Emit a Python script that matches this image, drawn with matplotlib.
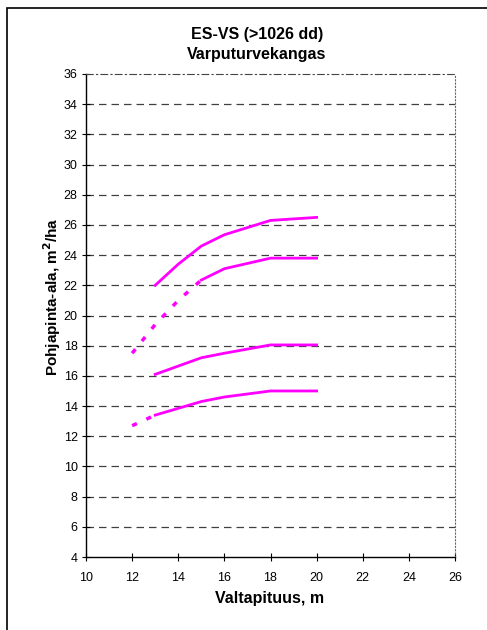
import matplotlib.pyplot as plt
import matplotlib
from matplotlib.patches import Rectangle

matplotlib.rcParams['font.family'] = ['Liberation Sans', 'DejaVu Sans']

# data
x_upper = [13, 14, 15, 16, 18, 20]
y_upper = [22.0, 23.4, 24.6, 25.35, 26.3, 26.5]

x_mid2_dot = [12, 13, 14, 15]
y_mid2_dot = [17.5, 19.4, 21.0, 22.35]
x_mid2 = [15, 16, 18, 20]
y_mid2 = [22.35, 23.1, 23.8, 23.8]

x_mid3 = [13, 15, 16, 18, 20]
y_mid3 = [16.1, 17.2, 17.5, 18.05, 18.05]

x_low_dot = [12, 13]
y_low_dot = [12.7, 13.4]
x_low = [13, 15, 16, 18, 20]
y_low = [13.4, 14.3, 14.6, 15.0, 15.0]

yticks = list(range(4, 37, 2))
xticks = list(range(10, 27, 2))

fig = plt.figure(figsize=(4.87, 6.30), dpi=100)
# outer frame (only left and top edges fall inside the picture)
fig.patches.append(Rectangle((7/487, -0.1), 1, 1.1 - 8/630, transform=fig.transFigure,
                             fill=False, edgecolor='black', linewidth=1.2))
ax = fig.add_axes([86/487, 1 - 557/630, 369/487, 483/630])

col = '#FF00FF'
ax.plot(x_upper, y_upper, color=col, lw=2)
ax.plot(x_mid2_dot, y_mid2_dot, color=col, lw=2.5, linestyle=(0, (1.5, 3)))
ax.plot(x_mid2, y_mid2, color=col, lw=2)
ax.plot(x_mid3, y_mid3, color=col, lw=2)
ax.plot(x_low_dot, y_low_dot, color=col, lw=2.5, linestyle=(0, (1.5, 3)))
ax.plot(x_low, y_low, color=col, lw=2)

for yv in yticks[1:-1]:
    ax.axhline(yv, color='#404040', lw=0.9, linestyle=(0, (6, 4)), zorder=0)

ax.set_xlim(10, 26)
ax.set_ylim(4, 36)
ax.set_xticks(xticks)
ax.set_yticks(yticks)
ax.tick_params(direction='inout', length=6, width=0.8, labelsize=9)
ax.tick_params(axis='x', pad=8)
ax.tick_params(axis='y', pad=3)

ax.spines['top'].set_linestyle((0, (6, 3, 1, 3)))
ax.spines['top'].set_color('#444444')
ax.spines['top'].set_linewidth(0.8)
ax.spines['right'].set_linestyle((0, (1, 2)))
ax.spines['right'].set_color('#666666')
ax.spines['right'].set_linewidth(0.8)
ax.spines['left'].set_linewidth(1.0)
ax.spines['bottom'].set_linewidth(1.0)

fig.text(270/487, 1 - 598/630, 'Valtapituus, m', fontsize=11.5, fontweight='bold',
         ha='center', va='center')
fig.text(52/487, 1 - 297/630, 'Pohjapinta-ala, m$^{\\mathbf{2}}$/ha', fontsize=11,
         fontweight='bold', rotation=90, ha='center', va='center')
fig.text(257/487, 1 - 35/630, 'ES-VS (>1026 dd)', fontsize=11.5, fontweight='bold',
         ha='center', va='center')
fig.text(257/487, 1 - 54/630, 'Varputurvekangas', fontsize=11.5, fontweight='bold',
         ha='center', va='center')

fig.savefig('out.png', dpi=100)
